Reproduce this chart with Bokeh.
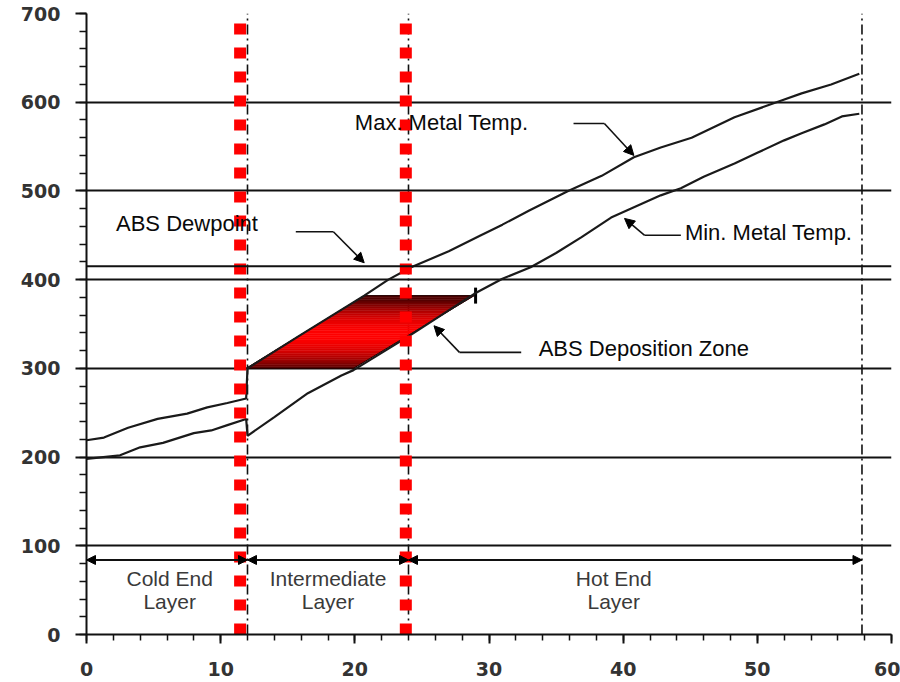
import numpy as np
from bokeh.plotting import figure
from bokeh.models import (Range1d, Arrow, NormalHead, SingleIntervalTicker, FixedTicker, Span)
from bokeh.core.properties import value
from bokeh.embed import file_html
from bokeh.resources import INLINE

# ---------------- data ----------------
max_x = [0, 1.3, 3.1, 5.3, 7.5, 9, 10.5, 11.9, 12.0, 16, 20.7, 22.5, 24.2, 27, 29.4,
         31, 33, 35.9, 38.4, 40.8, 42.8, 45.1, 48.3, 51.8, 53.3, 55.5, 57.6]
max_y = [219, 222, 233, 243, 249, 256, 261, 266, 300, 338, 382, 400, 414, 432, 450,
         462, 478, 500, 517, 538, 549, 560, 583, 602, 610, 620, 632]

min_x = [0, 2.5, 4, 5.7, 8, 9.3, 10.5, 11.9, 12.0, 14, 16.5, 19, 19.9, 24, 28.9, 31,
         33.1, 35, 36.9, 39.1, 42.8, 44.3, 46, 48.3, 50, 52, 53.3, 55, 56.3, 57.6]
min_y = [198, 202, 211, 216, 227, 230, 236, 243, 224, 245, 272, 292, 298, 336, 384, 401,
         414, 430, 448, 470, 495, 503, 516, 531, 543, 557, 565, 575, 584, 587]

dewpoint = 415

zone_y = [300, 382]
zone_left_x = [11.9, 20.7]
zone_right_x = [19.9, 28.9]

layer_bounds = [0, 12, 24, 57.8]
layer_arrow_y = 84
layer_names = ["Cold End", "Intermediate", "Hot End"]
layer_sub = ["Layer", "Layer", "Layer"]
layer_label_x = [6.2, 18.0, 39.3]
layer_label_y = [63, 37]

red_x = [11.45, 23.8]

# annotations: label text, position, leader polyline (x, y) ending at arrow tip
labels = ["Max. Metal Temp.", "ABS Dewpoint", "Min. Metal Temp.", "ABS Deposition Zone"]
label_x = [20.0, 2.2, 44.6, 33.7]
label_y = [577, 463, 453, 322]
leader_x = [[36.3, 38.6, 40.8], [15.6, 18.4, 20.7], [44.3, 41.6, 40.1], [32.4, 27.8, 25.9]]
leader_y = [[576, 576, 540], [454, 454, 419], [450, 450, 469], [318, 318, 348]]

x_ticks_interval = 10
y_ticks_interval = 100
y_grid = [100, 200, 300, 400, 500, 600, 700]

# ---------------- figure ----------------
p = figure(width=900, height=682, x_range=Range1d(0, 60), y_range=Range1d(0, 700),
           output_backend="svg", toolbar_location=None, title=None,
           min_border_left=86, min_border_right=9, min_border_top=13, min_border_bottom=48)
p.outline_line_color = None
p.background_fill_color = "white"

p.xgrid.visible = False
p.ygrid.ticker = FixedTicker(ticks=y_grid)
p.ygrid.grid_line_color = "#111111"
p.ygrid.grid_line_width = 2

p.xaxis.ticker = SingleIntervalTicker(interval=x_ticks_interval, num_minor_ticks=5)
p.yaxis.ticker = SingleIntervalTicker(interval=y_ticks_interval, num_minor_ticks=5)
for ax in (p.xaxis[0], p.yaxis[0]):
    ax.axis_line_width = 2
    ax.axis_line_color = "#111111"
    ax.major_tick_line_width = 2
    ax.major_tick_line_color = "#111111"
    ax.minor_tick_line_width = 1.5
    ax.minor_tick_line_color = "#111111"
    ax.major_tick_in = 0
    ax.minor_tick_in = 0
    ax.major_label_text_font = "DejaVu Sans"
    ax.major_label_text_font_style = "bold"
    ax.major_label_text_font_size = "19px"
    ax.major_label_text_color = "#333333"
p.yaxis.major_tick_out = 11
p.yaxis.minor_tick_out = 7
p.yaxis.major_label_standoff = 15
p.xaxis.major_tick_out = 9
p.xaxis.minor_tick_out = 6
p.xaxis.major_label_standoff = 18

# dewpoint line
p.add_layout(Span(location=dewpoint, dimension="width", line_color="#111111", line_width=2))

# layer boundaries (dash-dot)
for bx in layer_bounds[1:]:
    p.line([bx, bx], [0, 700], line_color="#111111", line_width=1.6, line_dash="10 4 2 4")

# deposition zone with vertical gradient (dark edges, bright centre)
n_bands = 40
ts = np.linspace(0, 1, n_bands + 1)
xs, ys, cols = [], [], []
for i in range(n_bands):
    t0, t1 = ts[i], ts[i + 1]
    y0 = zone_y[0] + t0 * (zone_y[1] - zone_y[0])
    y1 = zone_y[0] + t1 * (zone_y[1] - zone_y[0])
    l0 = zone_left_x[0] + t0 * (zone_left_x[1] - zone_left_x[0])
    l1 = zone_left_x[0] + t1 * (zone_left_x[1] - zone_left_x[0])
    r0 = zone_right_x[0] + t0 * (zone_right_x[1] - zone_right_x[0])
    r1 = zone_right_x[0] + t1 * (zone_right_x[1] - zone_right_x[0])
    xs.append([l0, r0, r1, l1])
    ys.append([y0, y0, y1, y1])
    tm = (t0 + t1) / 2
    k = max(0.0, 1 - (abs(tm - 0.47) * 2.1) ** 2)
    r = int(0x50 + (0xff - 0x50) * k)
    cols.append("#%02x0000" % r)
p.patches(xs, ys, fill_color=cols, line_color=cols, line_width=0.5)
p.patch([zone_left_x[0], zone_right_x[0], zone_right_x[1], zone_left_x[1]],
        [zone_y[0], zone_y[0], zone_y[1], zone_y[1]],
        fill_color=None, line_color="#220000", line_width=1)
p.segment(x0=[zone_right_x[1] + 0.1], y0=[zone_y[1] - 9], x1=[zone_right_x[1] + 0.1],
          y1=[zone_y[1] + 9], line_color="black", line_width=3)

# temperature curves
p.line(max_x, max_y, line_color="#1a1a1a", line_width=2.2)
p.line(min_x, min_y, line_color="#1a1a1a", line_width=2.2)

# red dotted lines
for rx in red_x:
    p.line([rx, rx], [0, 700], line_color="#ff0000", line_width=12,
           line_dash="11 13", line_cap="butt")

# layer arrows
for a, b in zip(layer_bounds[:-1], layer_bounds[1:]):
    p.add_layout(Arrow(start=NormalHead(size=9, fill_color="black", line_color="black"),
                       end=NormalHead(size=9, fill_color="black", line_color="black"),
                       x_start=a, y_start=layer_arrow_y, x_end=b, y_end=layer_arrow_y,
                       line_width=2, line_color="#111111"))

p.text(x=layer_label_x, y=[layer_label_y[0]] * 3, text=layer_names, text_align="center",
       text_baseline="middle", text_font=value("Liberation Sans"), text_font_size="21px",
       text_color="#3a3a3a")
p.text(x=layer_label_x, y=[layer_label_y[1]] * 3, text=layer_sub, text_align="center",
       text_baseline="middle", text_font=value("Liberation Sans"), text_font_size="21px",
       text_color="#3a3a3a")

# annotations with leaders
p.text(x=label_x, y=label_y, text=labels, text_align="left", text_baseline="middle",
       text_font=value("Liberation Sans"), text_font_size="22px", text_color="#0a0a0a")
for lx, ly in zip(leader_x, leader_y):
    p.line(lx[:-1], ly[:-1], line_color="#111111", line_width=1.6)
    p.add_layout(Arrow(end=NormalHead(size=10, fill_color="black", line_color="black"),
                       x_start=lx[-2], y_start=ly[-2], x_end=lx[-1], y_end=ly[-1],
                       line_width=1.6, line_color="#111111"))

open("out.html", "w").write(file_html(p, INLINE))
